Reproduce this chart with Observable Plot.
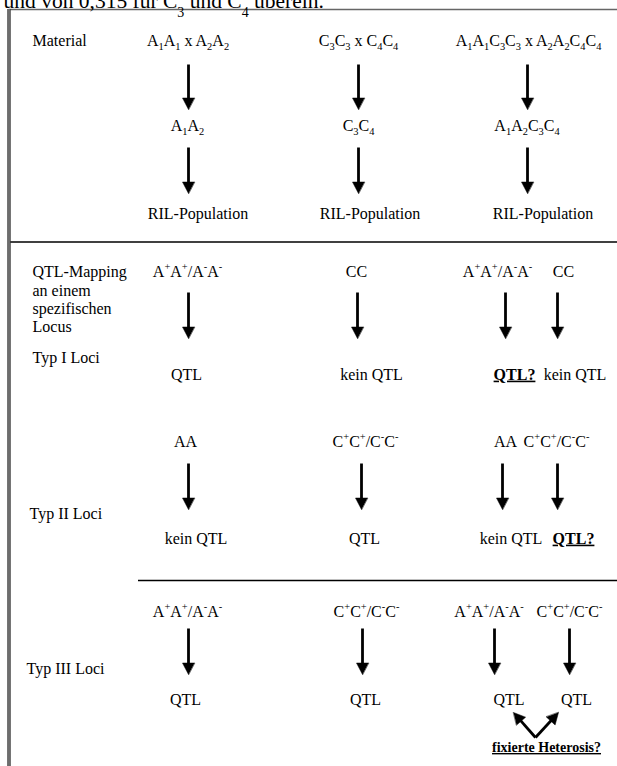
<!DOCTYPE html>
<html>
<head>
<meta charset="utf-8">
<script src="https://cdn.jsdelivr.net/npm/d3@7"></script>
<script src="https://cdn.jsdelivr.net/npm/@observablehq/plot@0.6"></script>
<style>
  html, body { margin: 0; padding: 0; background: #fff; }
  #chart svg { display: block; }
</style>
</head>
<body>
<div id="chart"></div>
<script>
// ---------------- data (content of the diagram) ----------------
// markup: "_x" = subscript character x, "^x" = superscript character x
const headerText = "und von 0,315 für C_3 und C_4 überein.";
const sectionLabels = ["Material", "QTL-Mapping\nan einem\nspezifischen\nLocus"];
const crosses = ["A_1A_1 x A_2A_2", "C_3C_3 x C_4C_4", "A_1A_1C_3C_3 x A_2A_2C_4C_4"];
const hybrids = ["A_1A_2", "C_3C_4", "A_1A_2C_3C_4"];
const populations = ["RIL-Population", "RIL-Population", "RIL-Population"];
const locusTypes = ["Typ I Loci", "Typ II Loci", "Typ III Loci"];
const typeIGenotypes = [["A^+A^+/A^-A^-"], ["CC"], ["A^+A^+/A^-A^-", "CC"]];
const typeIResults = [["QTL"], ["kein QTL"], ["QTL?", "kein QTL"]];
const typeIIGenotypes = [["AA"], ["C^+C^+/C^-C^-"], ["AA", "C^+C^+/C^-C^-"]];
const typeIIResults = [["kein QTL"], ["QTL"], ["kein QTL", "QTL?"]];
const typeIIIGenotypes = [["A^+A^+/A^-A^-"], ["C^+C^+/C^-C^-"], ["A^+A^+/A^-A^-", "C^+C^+/C^-C^-"]];
const typeIIIResults = [["QTL"], ["QTL"], ["QTL", "QTL"]];
const heterosisNote = "fixierte Heterosis?";

// ---------------- layout (diagram frame, pixels) ----------------
const W = 617, H = 766;
const layout = {
  header: {x: 3, y: 7},
  frame: {left: 8.5, top: 9, sep1: 241.5, sep2: 580, sep2Start: 138},
  labelX: 32,
  materialY: 40,
  crossX: [187.5, 358, 528],
  hybridX: [187, 358, 526.5], hybridY: 125,
  popX: [197.5, 369.5, 542.5], popY: 213,
  matArrowX: [188, 358, 527],
  matArrowY: [[64, 109], [147, 193]],
  mappingLabelY: 298.5,
  types: [
    {labelX: 32, labelY: 357, genoY: 271, arrowY: [292, 338], resY: 374,
     genoX: [[187], [356], [497, 563]], arrowX: [[188], [357], [505, 557]], resX: [[186], [371], [514, 574.5]]},
    {labelX: 29, labelY: 513, genoY: 441, arrowY: [463, 509], resY: 538,
     genoX: [[185], [365], [505, 556]], arrowX: [[188], [361], [502, 557]], resX: [[195.5], [364], [510.5, 573]]},
    {labelX: 26, labelY: 668, genoY: 611, arrowY: [628, 674], resY: 699,
     genoX: [[187], [366], [488.5, 569]], arrowX: [[188], [362], [494, 569]], resX: [[185], [365], [508.5, 576]]}
  ],
  heterosis: {x: 546, y: 747, from: [535, 737], to: [[513, 712], [558, 712]]}
};
const typeGenotypes = [typeIGenotypes, typeIIGenotypes, typeIIIGenotypes];
const typeResults = [typeIResults, typeIIResults, typeIIIResults];

// ---------------- build tables ----------------
const centerTexts = [];   // regular 16px, centered
const boldTexts = [];     // bold underlined
crosses.forEach((t, i) => centerTexts.push({t, x: layout.crossX[i], y: layout.materialY}));
hybrids.forEach((t, i) => centerTexts.push({t, x: layout.hybridX[i], y: layout.hybridY}));
populations.forEach((t, i) => centerTexts.push({t, x: layout.popX[i], y: layout.popY}));

const arrows = [];
layout.matArrowX.forEach(x => layout.matArrowY.forEach(([y1, y2]) => arrows.push({x1: x, y1, x2: x, y2})));

typeGenotypes.forEach((geno, k) => {
  const L = layout.types[k];
  geno.forEach((list, c) => list.forEach((t, j) => centerTexts.push({t, x: L.genoX[c][j], y: L.genoY})));
  typeResults[k].forEach((list, c) => list.forEach((t, j) => {
    const row = {t, x: L.resX[c][j], y: L.resY};
    (t.endsWith("?") ? boldTexts : centerTexts).push(row);
  }));
  L.arrowX.forEach(xs => xs.forEach(x => arrows.push({x1: x, y1: L.arrowY[0], x2: x, y2: L.arrowY[1]})));
});
layout.heterosis.to.forEach(([x, y]) =>
  arrows.push({x1: layout.heterosis.from[0], y1: layout.heterosis.from[1], x2: x, y2: y}));

const leftLabels = [
  {t: sectionLabels[0], x: layout.labelX, y: layout.materialY},
  {t: sectionLabels[1], x: layout.labelX, y: layout.mappingLabelY},
  ...locusTypes.map((t, k) => ({t, x: layout.types[k].labelX, y: layout.types[k].labelY}))
];

// arrow shafts + filled heads
const HEAD_L = 11.5, HEAD_W = 6;
const shafts = [], heads = [];
arrows.forEach((a, i) => {
  const dx = a.x2 - a.x1, dy = a.y2 - a.y1, len = Math.hypot(dx, dy);
  const ux = dx / len, uy = dy / len, nx = -uy, ny = ux;
  const bx = a.x2 - ux * HEAD_L, by = a.y2 - uy * HEAD_L;
  shafts.push({x1: a.x1, y1: a.y1, x2: bx + ux, y2: by + uy});
  heads.push({id: i, x: a.x2, y: a.y2});
  heads.push({id: i, x: bx + nx * HEAD_W, y: by + ny * HEAD_W});
  heads.push({id: i, x: bx - nx * HEAD_W, y: by - ny * HEAD_W});
});

const hLines = [
  {y: layout.frame.top, x1: layout.frame.left, x2: W, c: "#666", w: 1.6},
  {y: layout.frame.sep1, x1: layout.frame.left, x2: W, c: "#000", w: 1.5},
  {y: layout.frame.sep2, x1: layout.frame.sep2Start, x2: W, c: "#000", w: 1.5}
];
const vLines = [{x: layout.frame.left, y1: layout.frame.top, y2: H}];

const font = "'Liberation Serif', 'Times New Roman', Times, serif";

const chart = Plot.plot({
  width: W, height: H, margin: 0,
  x: {domain: [0, W], range: [0, W], axis: null},
  y: {domain: [0, H], range: [0, H], axis: null},
  style: {fontFamily: font, background: "white", color: "black", overflow: "visible"},
  marks: [
    Plot.ruleY(hLines, {y: "y", x1: "x1", x2: "x2", stroke: "c", strokeWidth: "w"}),
    Plot.ruleX(vLines, {x: "x", y1: "y1", y2: "y2", stroke: "#3a3a3a", strokeWidth: 3.4}),
    Plot.ruleX(vLines, {x: "x", y1: "y1", y2: "y2", stroke: "#a0a0a0", strokeWidth: 1}),
    Plot.text([{t: headerText, ...layout.header}], {x: "x", y: "y", text: "t", textAnchor: "start", lineAnchor: "bottom", fontSize: 21.5, fill: "black"}),
    Plot.text(leftLabels, {x: "x", y: "y", text: "t", textAnchor: "start", lineAnchor: "middle", lineHeight: 1.145, fontSize: 16, fill: "black"}),
    Plot.text(centerTexts, {x: "x", y: "y", text: "t", fontSize: 16, fill: "black"}),
    Plot.text(boldTexts, {x: "x", y: "y", text: "t", fontSize: 16, fontWeight: "bold", fill: "black"}),
    Plot.text([{t: heterosisNote, x: layout.heterosis.x, y: layout.heterosis.y}], {x: "x", y: "y", text: "t", fontSize: 14, fontWeight: "bold", fill: "black"}),
    Plot.link(shafts, {x1: "x1", y1: "y1", x2: "x2", y2: "y2", stroke: "black", strokeWidth: 2.8}),
    Plot.line(heads, {x: "x", y: "y", z: "id", fill: "black", stroke: "black", strokeWidth: 0.5, curve: "linear-closed"})
  ]
});

document.getElementById("chart").appendChild(chart);

// rich text: sub/superscripts as tspans
const NS = "http://www.w3.org/2000/svg";
chart.querySelectorAll("text").forEach(el => {
  const s = el.textContent;
  if (!/[_^]/.test(s) || el.querySelector("tspan")) return;
  const size = parseFloat(getComputedStyle(el).fontSize) || 16;
  const subShift = size > 18 ? 0.45 : 0.3;
  el.textContent = "";
  let shift = 0, buf = "";
  const add = (txt, target, fs) => {
    const t = document.createElementNS(NS, "tspan");
    t.textContent = txt;
    if (target !== shift) { t.setAttribute("dy", (target - shift).toFixed(2)); shift = target; }
    if (fs) t.setAttribute("font-size", fs.toFixed(2));
    el.appendChild(t);
  };
  for (let i = 0; i < s.length; i++) {
    const c = s[i];
    if ((c === "_" || c === "^") && i + 1 < s.length) {
      if (buf) { add(buf, 0); buf = ""; }
      add(s[i + 1], c === "_" ? size * subShift : -size * 0.42, size * 0.65);
      i++;
    } else buf += c;
  }
  if (buf) add(buf, 0);
});
// underline the bold (open question) labels
d3.select(chart).selectAll("g[font-weight=bold] text").style("text-decoration", "underline");
</script>
</body>
</html>
